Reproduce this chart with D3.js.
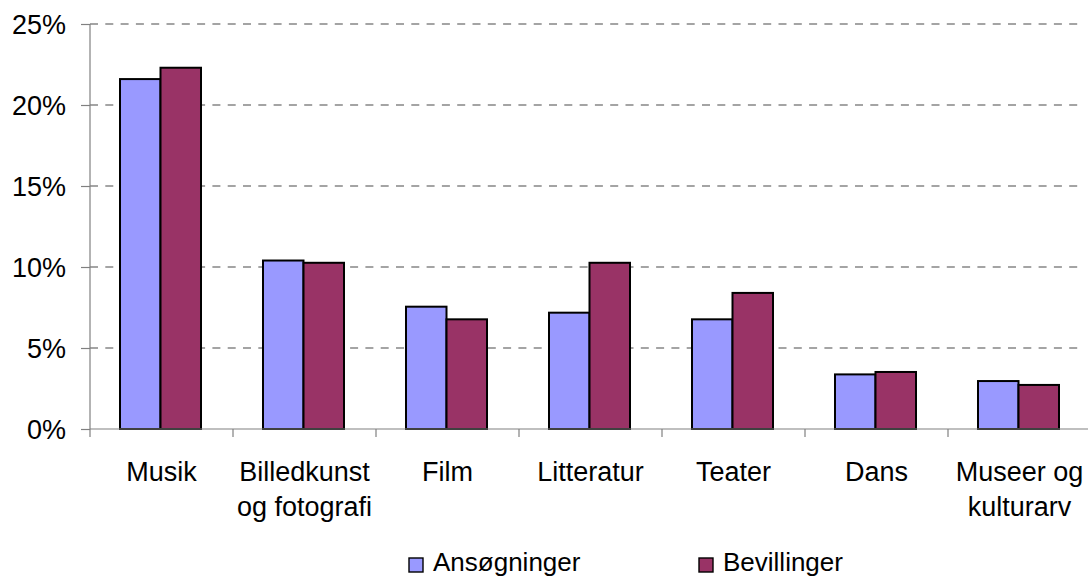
<!DOCTYPE html>
<html><head><meta charset="utf-8">
<script src="https://cdn.jsdelivr.net/npm/d3@7"></script>
<style>body{margin:0;background:#fff}svg{display:block}text{font-family:"Liberation Sans",Arial,sans-serif;fill:#000}</style>
</head><body>
<svg id="c" width="1088" height="578"></svg>
<script>
const categories = [["Musik"],["Billedkunst","og fotografi"],["Film"],["Litteratur"],["Teater"],["Dans"],["Museer og","kulturarv"]];
const seriesNames = ["Ansøgninger","Bevillinger"];
const ansoegninger = [21.6, 10.4, 7.55, 7.18, 6.77, 3.37, 2.96];
const bevillinger = [22.3, 10.26, 6.77, 10.26, 8.4, 3.52, 2.72];
const yTicks = [0,5,10,15,20,25];
const colors = ["#9999FF","#993366"];

const svg = d3.select("#c");
const pLeft = 90, pRight = 1091, pTop = 24, pBottom = 429;
const fs = 27;
const x = d3.scaleBand().domain(d3.range(categories.length)).range([pLeft, pRight]);
const xs = d3.scaleBand().domain([0,1]).range([30, 111]);
const y = d3.scaleLinear().domain([0,25]).range([pBottom, pTop]);

// gridlines
svg.append("g").selectAll("line").data(yTicks.filter(d=>d>0)).join("line")
  .attr("x1", pLeft).attr("x2", 1082).attr("y1", d=>y(d)).attr("y2", d=>y(d))
  .attr("stroke","#4a4a4a").attr("stroke-width",1.1).attr("stroke-dasharray","8,7.3");

// y axis
const ya = svg.append("g").attr("transform",`translate(${pLeft},0)`)
  .call(d3.axisLeft(y).tickValues(yTicks).tickSize(9).tickPadding(15).tickFormat(d=>d+"%"));
ya.select(".domain").attr("stroke","#808080").attr("stroke-width",1.2).attr("d",`M0,${pTop}V${pBottom}`);
ya.selectAll(".tick line").attr("stroke","#808080").attr("stroke-width",1.2);
ya.selectAll("text").attr("font-size",fs).attr("font-family",'"Liberation Sans",Arial,sans-serif').attr("fill","#000").attr("dy","0.35em");

// bars
const data = categories.map((c,i)=>[ansoegninger[i], bevillinger[i]]);
const g = svg.append("g");
data.forEach((vals,i)=>{
  g.append("g").attr("transform",`translate(${x(i)},0)`).selectAll("rect").data(vals).join("rect")
    .attr("x",(d,j)=>xs(j)).attr("width",xs.bandwidth())
    .attr("y",d=>y(d)).attr("height",d=>pBottom-y(d))
    .attr("fill",(d,j)=>colors[j]).attr("stroke","#000").attr("stroke-width",2);
});

// x axis
const xa = svg.append("g").attr("transform",`translate(0,${pBottom})`);
xa.append("line").attr("x1",pLeft).attr("x2",1088).attr("y1",0).attr("y2",0).attr("stroke","#808080").attr("stroke-width",1.2);
xa.selectAll("line.t").data(d3.range(categories.length+1)).join("line").attr("class","t")
  .attr("x1",i=>pLeft + i*x.step()).attr("x2",i=>pLeft + i*x.step()).attr("y1",0).attr("y2",8)
  .attr("stroke","#808080").attr("stroke-width",1.2);
const lbl = svg.append("g").selectAll("text").data(categories).join("text")
  .attr("x",(d,i)=>x(i)+x.bandwidth()/2).attr("y",481).attr("text-anchor","middle").attr("font-size",fs);
lbl.selectAll("tspan").data(d=>d).join("tspan")
  .attr("x",function(){return d3.select(this.parentNode).attr("x");})
  .attr("dy",(d,k)=>k===0?0:35).text(d=>d);

// legend
const legX = [409, 699];
const lg = svg.append("g").selectAll("g").data(seriesNames).join("g")
  .attr("transform",(d,i)=>`translate(${legX[i]},558)`);
lg.append("rect").attr("width",14).attr("height",14).attr("fill",(d,i)=>colors[i]).attr("stroke","#000").attr("stroke-width",1.4);
lg.append("text").attr("x",24).attr("y",13).attr("font-size",26).text(d=>d);
</script>
</body></html>
